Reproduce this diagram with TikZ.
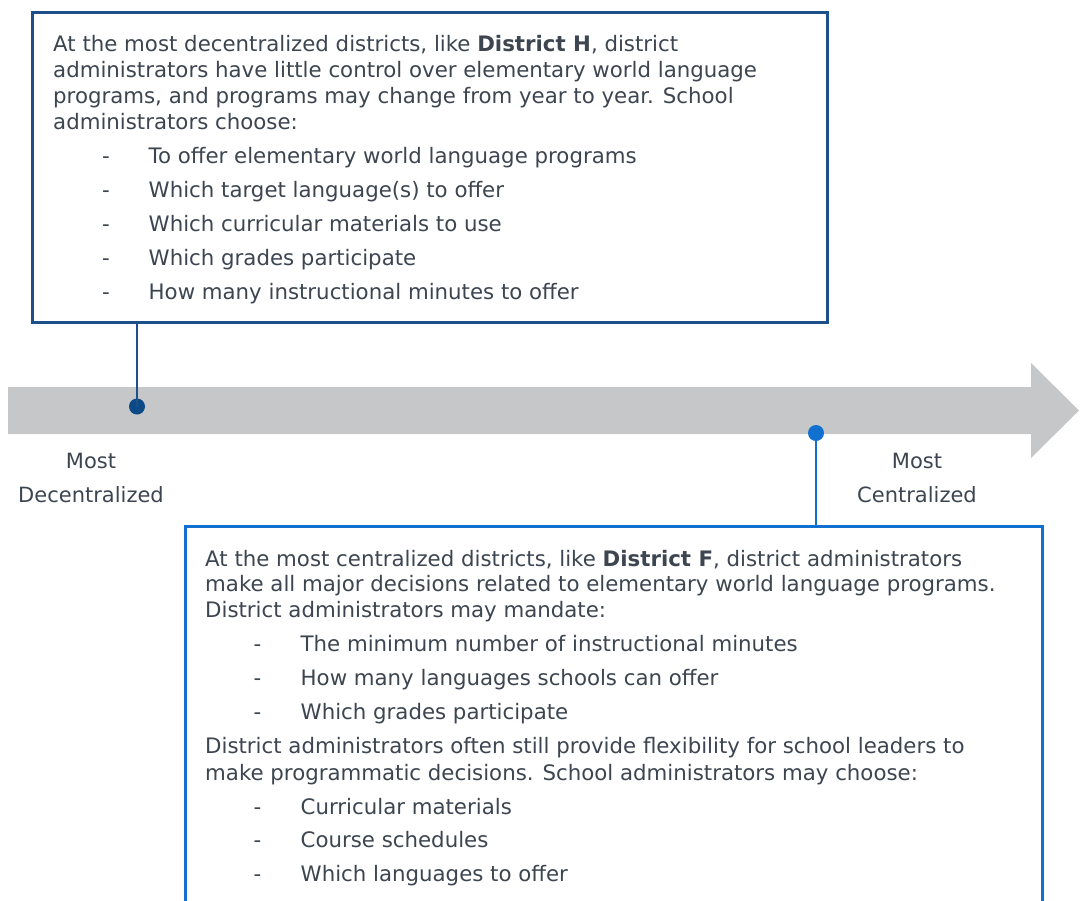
\documentclass[tikz,border=0pt]{standalone}
\usepackage{fontspec}
\setmainfont{DejaVu Sans}
\definecolor{darkblue}{HTML}{1D4F8B}
\definecolor{darkdot}{HTML}{0B4A87}
\definecolor{brightblue}{HTML}{1170D0}
\definecolor{bodytext}{HTML}{3C4550}
\definecolor{bargray}{HTML}{C5C7C9}
\tikzset{
  line/.style={anchor=base west, inner sep=0pt, text=bodytext, font=\fontsize{21.3}{25}\selectfont},
  dashmark/.style={anchor=base west, inner sep=0pt, text=bodytext, font=\fontsize{21.3}{25}\selectfont},
  endlabel/.style={anchor=base, inner sep=0pt, text=bodytext, font=\fontsize{21}{25}\selectfont},
  panel/.style={draw, line width=2.5pt, anchor=north west, inner sep=0pt, fill=white},
  marker/.style={circle, inner sep=0pt, minimum size=16pt},
}
\begin{document}
\begin{tikzpicture}[x=1pt,y=-1pt]
\useasboundingbox (0,0) rectangle (1081,900);
\clip (0,0) rectangle (1081,900);

% scale arrow
\fill[bargray] (8,387) -- (1031,387) -- (1031,363) -- (1079,410.5) -- (1031,458) -- (1031,434) -- (8,434) -- cycle;

% decentralized panel
\node (boxH) [panel, draw=darkblue, minimum width=795pt, minimum height=310pt] at (31,11) {};
\node (dotH) [marker, fill=darkdot] at (137,406.5) {};
\draw[darkblue, line width=2.7pt] (boxH.south -| dotH) -- (dotH.center);

% centralized panel (runs past the lower edge)
\node (boxF) [panel, draw=brightblue, minimum width=857pt, minimum height=420pt] at (184,525) {};
\node (dotF) [marker, fill=brightblue] at (816,433) {};
\draw[brightblue, line width=2.7pt] (dotF.center) -- (dotF |- boxF.north);

% end labels
\node (decA) [endlabel] at (91,468) {Most};
\node (decB) [endlabel] at (91,502.7) {Decentralized};
\node (cenA) [endlabel] at (917,468) {Most};
\node (cenB) [endlabel] at (917,502.7) {Centralized};

% decentralized text
\node (h1) [line] at (53,51) {At the most decentralized districts, like \textbf{District H}, district};
\node (h2) [line] at (53,77) {administrators have little control over elementary world language};
\node (h3) [line] at (53,103) {programs, and programs may change from year to year. School};
\node (h4) [line] at (53,129) {administrators choose:};
\node (hd1) [dashmark] at (102,163) {-};
\node (hb1) [line] at (148.5,163) {To offer elementary world language programs};
\node (hd2) [dashmark] at (102,197) {-};
\node (hb2) [line] at (148.5,197) {Which target language(s) to offer};
\node (hd3) [dashmark] at (102,231) {-};
\node (hb3) [line] at (148.5,231) {Which curricular materials to use};
\node (hd4) [dashmark] at (102,265) {-};
\node (hb4) [line] at (148.5,265) {Which grades participate};
\node (hd5) [dashmark] at (102,299) {-};
\node (hb5) [line] at (148.5,299) {How many instructional minutes to offer};

% centralized text
\node (f1) [line] at (205,566.7) {At the most centralized districts, like \textbf{District F}, district administrators};
\node (f2) [line] at (205,591.7) {make all major decisions related to elementary world language programs.};
\node (f3) [line] at (205,617.7) {District administrators may mandate:};
\node (fd1) [dashmark] at (253.5,651.7) {-};
\node (fb1) [line] at (300.5,651.7) {The minimum number of instructional minutes};
\node (fd2) [dashmark] at (253.5,685.7) {-};
\node (fb2) [line] at (300.5,685.7) {How many languages schools can offer};
\node (fd3) [dashmark] at (253.5,719.7) {-};
\node (fb3) [line] at (300.5,719.7) {Which grades participate};
\node (f4) [line] at (205,753.3) {District administrators often still provide flexibility for school leaders to};
\node (f5) [line] at (205,780) {make programmatic decisions. School administrators may choose:};
\node (fd4) [dashmark] at (253.5,814) {-};
\node (fb4) [line] at (300.5,814) {Curricular materials};
\node (fd5) [dashmark] at (253.5,847.7) {-};
\node (fb5) [line] at (300.5,847.7) {Course schedules};
\node (fd6) [dashmark] at (253.5,881.7) {-};
\node (fb6) [line] at (300.5,881.7) {Which languages to offer};
\end{tikzpicture}
\end{document}
